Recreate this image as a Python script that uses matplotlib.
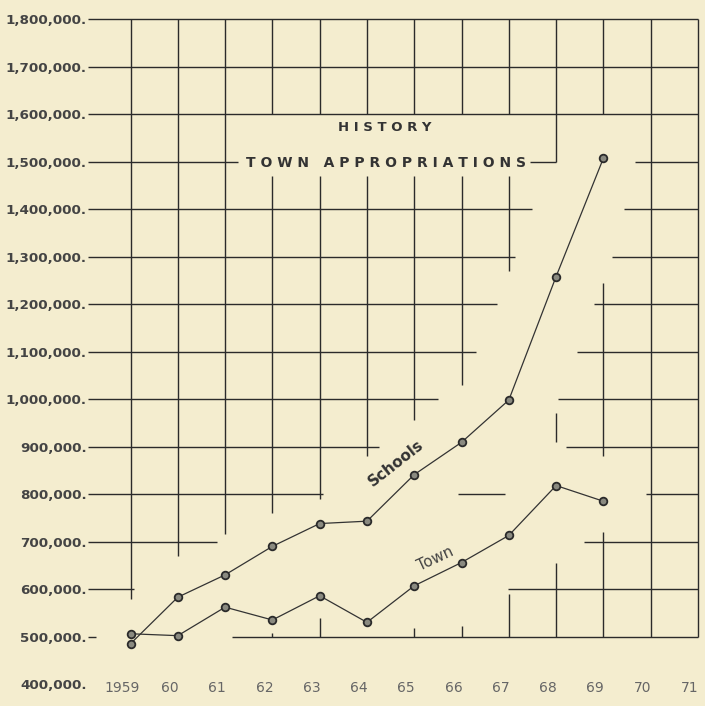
"""History of town appropriations, 1959-1969 (schools vs. town), redrawn from an old ledger chart."""
import matplotlib
matplotlib.use("Agg")
import matplotlib.pyplot as plt

# --- data -----------------------------------------------------------------
years = [1959, 1960, 1961, 1962, 1963, 1964, 1965, 1966, 1967, 1968, 1969]
schools = [485000, 583000, 630000, 690000, 738000, 743000, 841000, 909000, 998000, 1258000, 1507000]
town = [506000, 502000, 562000, 535000, 586000, 530000, 607000, 656000, 713000, 818000, 785000]

y_ticks = list(range(400000, 1800001, 100000))
y_tick_labels = [f"{v:,}." for v in y_ticks]
x_ticks = list(range(1959, 1972))
x_tick_labels = ["1959"] + [f"{y % 100:02d}" for y in x_ticks[1:]]

# --- layout: the hand-ruled grid, with the gaps left around title and curves
LEFT, RIGHT = 1958.1, 1971.0
H_SEGS = {
    1800000: [(LEFT, RIGHT)],
    1700000: [(LEFT, RIGHT)],
    1600000: [(LEFT, RIGHT)],
    1500000: [(LEFT, 1961.28), (1967.45, 1968.0), (1969.67, RIGHT)],
    1400000: [(LEFT, 1967.5), (1969.44, RIGHT)],
    1300000: [(LEFT, 1967.13), (1969.18, RIGHT)],
    1200000: [(LEFT, 1966.75), (1968.8, RIGHT)],
    1100000: [(LEFT, 1966.3), (1968.45, RIGHT)],
    1000000: [(LEFT, 1965.5), (1968.05, RIGHT)],
    900000: [(LEFT, 1964.25), (1968.2, RIGHT)],
    800000: [(LEFT, 1963.08), (1965.93, 1966.92), (1969.9, RIGHT)],
    700000: [(LEFT, 1960.83), (1968.6, RIGHT)],
    600000: [(LEFT, 1959.07), (1966.99, RIGHT)],
    500000: [(LEFT, 1958.27), (1961.15, RIGHT)],
}
V_SEGS = {
    1959: [(580000, 1800000)],
    1960: [(670000, 1800000)],
    1961: [(715000, 1800000)],
    1962: [(760000, 1470000), (1600000, 1800000), (500000, 507000)],
    1963: [(790000, 1470000), (1600000, 1800000), (500000, 540000)],
    1964: [(880000, 1470000), (1600000, 1800000)],
    1965: [(955000, 1470000), (1600000, 1800000), (500000, 519000)],
    1966: [(1030000, 1470000), (1600000, 1800000), (500000, 522000)],
    1967: [(1270000, 1470000), (1600000, 1800000), (500000, 590000)],
    1968: [(1500000, 1800000), (910000, 970000), (500000, 655000)],
    1969: [(1600000, 1800000), (880000, 1245000), (500000, 720000)],
    1970: [(500000, 1800000)],
    1971: [(500000, 1800000)],
}

PAPER = "#f4edcf"
INK = "#2b2b2b"


def draw_grid(ax):
    for y, segs in H_SEGS.items():
        for x0, x1 in segs:
            ax.hlines(y, x0, x1, color=INK, lw=1.0, clip_on=False, zorder=1)
    for x, segs in V_SEGS.items():
        for y0, y1 in segs:
            ax.vlines(x, y0, y1, color=INK, lw=1.0, clip_on=False, zorder=1)


def main():
    fig = plt.figure(figsize=(7.05, 7.06), dpi=100, facecolor=PAPER)
    ax = fig.add_axes([0.1248, 0.031, 0.8652, 0.942])
    ax.set_facecolor(PAPER)
    ax.set_xlim(LEFT, RIGHT)
    ax.set_ylim(400000, 1800000)
    for s in ax.spines.values():
        s.set_visible(False)

    draw_grid(ax)

    mk = dict(marker="o", markersize=5.5, markerfacecolor="#8a8a80",
              markeredgecolor="#2a2a2a", markeredgewidth=1.3)
    ax.plot(years, schools, color="#333333", lw=0.9, zorder=3, **mk)
    ax.plot(years, town, color="#333333", lw=0.9, zorder=3, **mk)

    ax.text(1964.62, 866000, "Schools", rotation=38, rotation_mode="anchor",
            ha="center", va="center", fontsize=11, fontweight="bold", color="#333333")
    ax.text(1965.44, 664000, "Town", rotation=25, rotation_mode="anchor",
            ha="center", va="center", fontsize=11, color="#444444")

    ax.text(1964.37, 1571000, "H I S T O R Y", ha="center", va="center",
            fontsize=9.5, fontweight="bold", color="#333333")
    ax.text(1964.4, 1497000, "T O W N   A P P R O P R I A T I O N S", ha="center",
            va="center", fontsize=10, fontweight="bold", color="#333333")

    ax.set_yticks(y_ticks)
    ax.set_yticklabels(y_tick_labels, fontsize=9.7, fontweight="bold", color="#444444")
    ax.tick_params(axis="y", length=0, pad=1)
    ax.set_xticks([])
    # year labels sit a little left of their rulings, on the 400,000 level
    for x, lab in zip(x_ticks, x_tick_labels):
        ax.text(x - 0.17, 392000, lab, ha="center", va="center",
                fontsize=10, color="#666666", clip_on=False)

    fig.savefig("out.png", dpi=100, facecolor=PAPER)
    plt.close(fig)


if __name__ == "__main__":
    main()
